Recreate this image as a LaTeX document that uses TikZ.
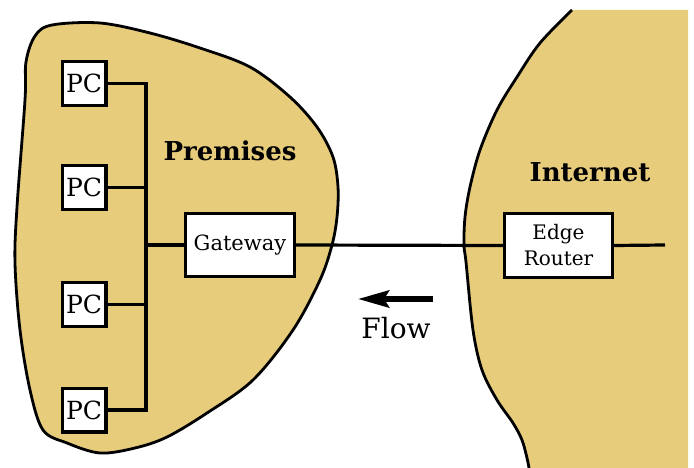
\documentclass[tikz,border=0pt]{standalone}
\usepackage{fontspec}
\setmainfont{DejaVu Serif}
\usetikzlibrary{arrows.meta}
\definecolor{land}{RGB}{231,204,124}
\begin{document}
\begin{tikzpicture}[x=1pt,y=-1pt,
  blob/.style={draw=black,line width=2.8pt,fill=land,line join=round},
  device/.style={draw=black,fill=white,line width=3.4pt,inner sep=0pt,align=center},
  pcbox/.style={device,minimum width=43.6pt,minimum height=43.6pt,font=\fontsize{25}{29}\selectfont},
  wire/.style={draw=black,line width=3.2pt},
  region/.style={font=\fontsize{26}{30}\selectfont\bfseries,anchor=base}]
\useasboundingbox (0,0) rectangle (694,468);

% premises area
\path[blob] plot[smooth cycle,tension=0.55] coordinates {
  (35,36) (52,25) (100,23) (150,33) (200,48) (250,67) (290,97) (317,127)
  (333,157) (338,187) (337,217) (332,245) (320,280) (293,330) (253,380)
  (207,413) (167,437) (135,448) (100,453) (67,443) (43,430) (30,390)
  (20,330) (15,263) (17,207) (25,100) (26,62)};

% internet area, cut off by the page edge
\fill[land] plot[smooth,tension=0.55] coordinates {
  (572,10) (540,43) (517,77) (497,110) (480,150) (470,187) (465,217)
  (464,245) (466,262) (473,330) (482,370) (497,400) (513,423) (522,440)
  (527,458) (529,468)} -- (688,468) -- (688,10) -- cycle;
\draw[line width=2.8pt,line join=round] plot[smooth,tension=0.55] coordinates {
  (572,10) (540,43) (517,77) (497,110) (480,150) (470,187) (465,217)
  (464,245) (466,262) (473,330) (482,370) (497,400) (513,423) (522,440)
  (527,458) (529,468)};

% devices
\node[pcbox] (pc1) at (84,83.5) {PC};
\node[pcbox] (pc2) at (84,187.5) {PC};
\node[pcbox] (pc3) at (84,304.5) {PC};
\node[pcbox] (pc4) at (84,410) {PC};
\node[device,minimum width=108.6pt,minimum height=62.6pt,font=\fontsize{21}{25}\selectfont] (gw) at (240,245) {Gateway};
\node[device,minimum width=107.6pt,minimum height=63.6pt,font=\fontsize{20}{26}\selectfont] (er) at (558.5,245.5) {Edge\\Router};

% LAN bus
\coordinate (b1) at (146,83.5);
\coordinate (b4) at (146,410);
\coordinate (tail) at (665,245);
\draw[wire] (pc1.east) -- (b1) -- (b4) -- (pc4.east);
\draw[wire] (pc2.east) -- (pc2.east -| b1);
\draw[wire] (pc3.east) -- (pc3.east -| b1);
\draw[wire] (gw.west) -- (gw.west -| b1);
\draw[wire] (gw.east) -- (er.west);
\draw[wire] (er.east) -- (tail);

% labels
\node[region] (prem) at (230,161) {Premises};
\node[region] (inet) at (590,182) {Internet};

% direction of traffic
\coordinate (fs) at (433,299);
\coordinate (fe) at (358,299);
\draw[line width=5.5pt,-{Stealth[length=31pt,width=17pt,inset=5pt]}] (fs) -- (fe);
\node[font=\fontsize{28}{32}\selectfont,anchor=base] (flow) at (396,338) {Flow};
\end{tikzpicture}
\end{document}
